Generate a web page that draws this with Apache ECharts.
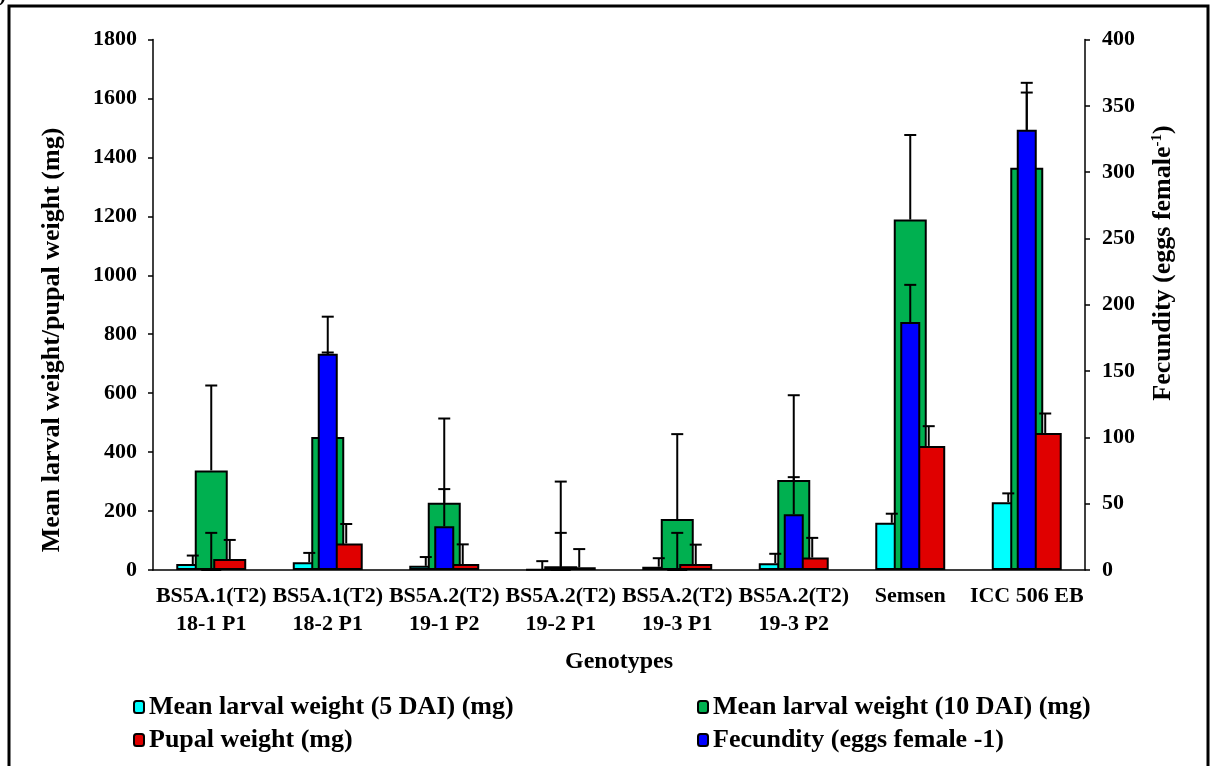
<!DOCTYPE html>
<html>
<head>
<meta charset="utf-8">
<title>Genotypes</title>
<style>html,body{margin:0;padding:0;background:#fff;}</style>
</head>
<body>
<div id="main" style="width:1215px;height:766px;"></div>
<script src="https://cdn.jsdelivr.net/npm/echarts@6/dist/echarts.min.js"></script>
<script>
// genotypes and readings (means + upper error)
var genotypes = ['BS5A.1(T2)\n18-1 P1', 'BS5A.1(T2)\n18-2 P1', 'BS5A.2(T2)\n19-1 P2', 'BS5A.2(T2)\n19-2 P1',
	'BS5A.2(T2)\n19-3 P1', 'BS5A.2(T2)\n19-3 P2', 'Semsen', 'ICC 506 EB'];
var larva5 = [20, 26, 14, 2, 11, 23, 160, 230];
var larva5Err = [29, 32, 30, 28, 29, 32, 31, 30];
var larva10 = [338, 451, 228, 13, 173, 305, 1189, 1365];
var larva10Err = [288, 287, 286, 287, 288, 288, 287, 288];
var pupal = [37, 90, 20, 9, 20, 42, 421, 465];
var pupalErr = [65, 66, 67, 62, 66, 67, 67, 66];
var fecundity = [0, 163, 33, 0, 0, 42, 187, 332];
var fecundityErr = [28, 28, 28, 28, 28, 28, 28, 28];

var names = ['Mean larval weight (5 DAI) (mg)', 'Mean larval weight (10 DAI) (mg)', 'Pupal weight (mg)', 'Fecundity (eggs female -1)'];
var leftAxis = {min: 0, max: 1800, step: 200};
var rightAxis = {min: 0, max: 400, step: 50};

var FONT = '"Liberation Serif", "Times New Roman", serif';
var BAR_W = 33, BAR_GAP = -0.44;

var myChart = echarts.init(document.getElementById('main'));

// error bar (plus side only) drawn over a bar
function errSeries(vals, errs, slot, xi, yi) {
	var step = BAR_W * (1 + BAR_GAP);
	return {
		type: 'custom',
		xAxisIndex: xi,
		yAxisIndex: yi,
		silent: true,
		z: 5,
		data: vals.map(function (v, i) { return [i, v, errs[i]]; }),
		renderItem: function (params, api) {
			var i = api.value(0), v = api.value(1), e = api.value(2);
			var p0 = api.coord([i, v]);
			var p1 = api.coord([i, v + e]);
			var x = p0[0] + slot * step;
			return {
				type: 'group',
				children: [
					{type: 'line', shape: {x1: x, y1: p0[1], x2: x, y2: p1[1]}, style: {stroke: '#000', lineWidth: 2}},
					{type: 'line', shape: {x1: x - 6, y1: p1[1], x2: x + 6, y2: p1[1]}, style: {stroke: '#000', lineWidth: 2}}
				]
			};
		}
	};
}

function barSeries(name, data, color) {
	return {
		name: name,
		type: 'bar',
		data: data,
		barWidth: BAR_W,
		barGap: (BAR_GAP * 100) + '%',
		itemStyle: {color: color, borderColor: '#000', borderWidth: 2}
	};
}

var axisLabelStyle = {color: '#000', fontSize: 22, fontWeight: 'bold', fontFamily: FONT};
var legendText = {color: '#000', fontSize: 26, fontWeight: 'bold', fontFamily: FONT, lineHeight: 24};
var plain = function (v) { return String(v); };

myChart.setOption({
	animation: false,
	grid: {left: 153, right: 130, top: 39.5, bottom: 196},
	xAxis: [{
		type: 'category',
		data: genotypes,
		axisLine: {lineStyle: {color: '#000', width: 1.5}},
		axisTick: {length: 5, lineStyle: {color: '#000', width: 1.5}},
		axisLabel: Object.assign({interval: 0, margin: 12, lineHeight: 28}, axisLabelStyle),
		splitLine: {show: false}
	}, {
		type: 'category',
		data: genotypes,
		show: false
	}],
	yAxis: [{
		type: 'value',
		min: leftAxis.min, max: leftAxis.max, interval: leftAxis.step,
		axisLine: {show: true, lineStyle: {color: '#000', width: 1.5}},
		axisTick: {show: true, length: 5, lineStyle: {color: '#000', width: 1.5}},
		axisLabel: Object.assign({margin: 16, formatter: plain}, axisLabelStyle),
		splitLine: {show: false}
	}, {
		type: 'value',
		position: 'right',
		min: rightAxis.min, max: rightAxis.max, interval: rightAxis.step,
		axisLine: {show: true, lineStyle: {color: '#000', width: 1.5}},
		axisTick: {show: true, length: 5, lineStyle: {color: '#000', width: 1.5}},
		axisLabel: Object.assign({margin: 17, formatter: plain}, axisLabelStyle),
		splitLine: {show: false}
	}],
	legend: [{
		left: 128, top: 689, orient: 'vertical', itemGap: 7,
		itemWidth: 10, itemHeight: 12, selectedMode: false,
		data: [names[0], names[2]], textStyle: legendText
	}, {
		left: 692, top: 689, orient: 'vertical', itemGap: 7,
		itemWidth: 10, itemHeight: 12, selectedMode: false,
		data: [names[1], names[3]], textStyle: legendText
	}],
	series: [
		barSeries(names[0], larva5, '#00FFFF'),
		barSeries(names[1], larva10, '#00B050'),
		barSeries(names[2], pupal, '#E00000'),
		errSeries(larva5, larva5Err, -1, 0, 0),
		errSeries(larva10, larva10Err, 0, 0, 0),
		errSeries(pupal, pupalErr, 1, 0, 0),
		{
			name: names[3],
			type: 'bar',
			xAxisIndex: 1,
			yAxisIndex: 1,
			data: fecundity,
			barWidth: 20,
			z: 6,
			itemStyle: {color: '#0000FF', borderColor: '#000', borderWidth: 2}
		},
		Object.assign(errSeries(fecundity, fecundityErr, 0, 1, 1), {z: 7})
	],
	graphic: [
		{type: 'rect', shape: {x: 9, y: 6, width: 1199, height: 800}, style: {fill: 'none', stroke: '#000', lineWidth: 3}, silent: true},
		{type: 'text', x: 6, y: 6, style: {text: 'a)', font: 'bold 22px ' + FONT, align: 'right', verticalAlign: 'bottom', textAlign: 'right', textVerticalAlign: 'bottom', fill: '#000'}},
		{type: 'text', x: 52, y: 340, rotation: Math.PI / 2,
			style: {text: 'Mean larval weight/pupal weight (mg)', font: 'bold 26px ' + FONT, align: 'center', verticalAlign: 'middle', textAlign: 'center', textVerticalAlign: 'middle', fill: '#000'}},
		{type: 'text', x: 1163, y: 263, rotation: Math.PI / 2,
			style: {text: 'Fecundity (eggs female{sup|-1})', font: 'bold 26px ' + FONT, align: 'center', verticalAlign: 'middle', textAlign: 'center', textVerticalAlign: 'middle', fill: '#000',
				rich: {sup: {fontSize: 15, fontWeight: 'bold', fontFamily: FONT, verticalAlign: 'top', lineHeight: 26}}}},
		{type: 'text', x: 619, y: 662,
			style: {text: 'Genotypes', font: 'bold 24px ' + FONT, align: 'center', verticalAlign: 'middle', textAlign: 'center', textVerticalAlign: 'middle', fill: '#000'}}
	]
});
</script>
</body>
</html>
